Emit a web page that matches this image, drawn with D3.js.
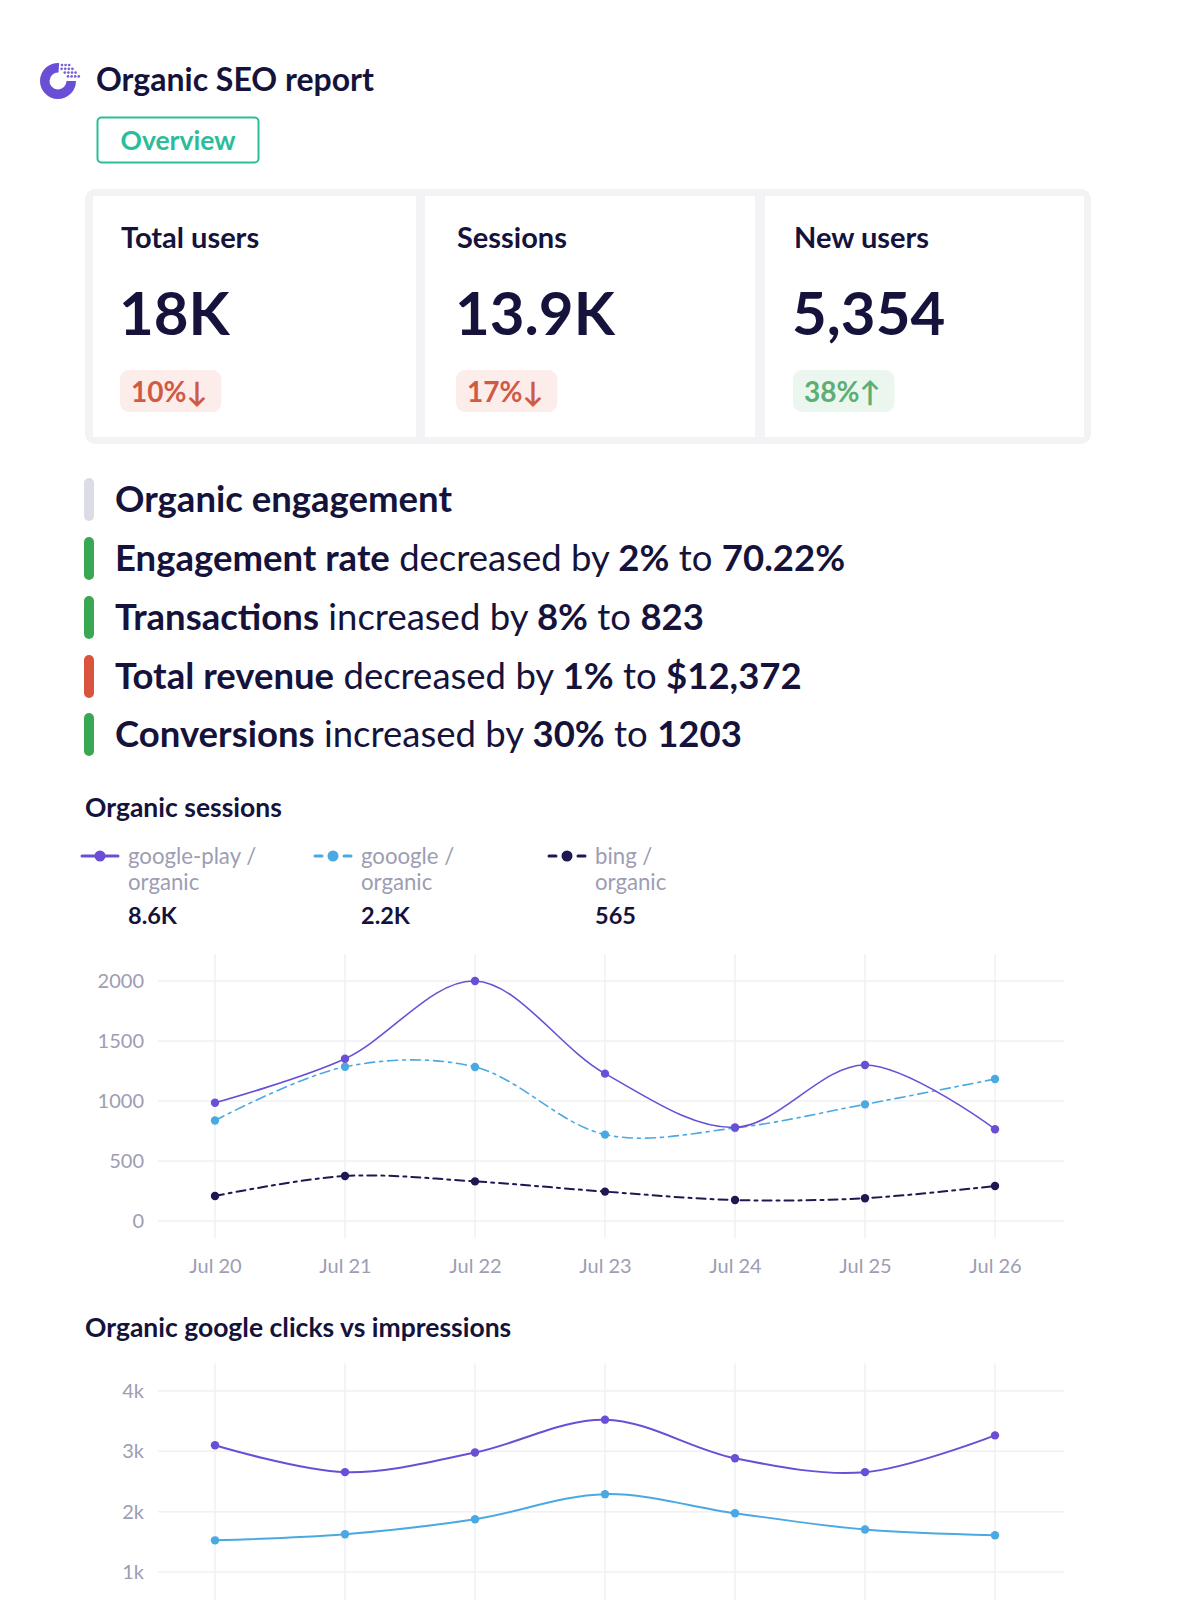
<!DOCTYPE html>
<html>
<head>
<meta charset="utf-8">
<script src="https://cdn.jsdelivr.net/npm/d3@7"></script>
<style>
  html, body { margin: 0; padding: 0; background: #ffffff; }
  svg { display: block; font-family: Lato, "Noto Sans", sans-serif; }
</style>
</head>
<body>
<svg id="chart" width="1180" height="1600"></svg>
<script>
// ---------- DATA ----------
const reportTitle = "Organic SEO report";
const tabLabel = "Overview";

const kpiLabels = ["Total users", "Sessions", "New users"];
const kpiValues = ["18K", "13.9K", "5,354"];
const kpiChanges = ["10%↓", "17%↓", "38%↑"];
const kpiTrend = ["down", "down", "up"];

const engagementTitle = "Organic engagement";
const engagementMetrics = ["Engagement rate", "Transactions", "Total revenue", "Conversions"];
const engagementVerbs = ["decreased", "increased", "decreased", "increased"];
const engagementChange = ["2%", "8%", "1%", "30%"];
const engagementValue = ["70.22%", "823", "$12,372", "1203"];
const engagementTrend = ["good", "good", "bad", "good"];

const days = ["Jul 20", "Jul 21", "Jul 22", "Jul 23", "Jul 24", "Jul 25", "Jul 26"];

const sessionsTitle = "Organic sessions";
const sessionSeriesNames = [["google-play /", "organic"], ["gooogle /", "organic"], ["bing /", "organic"]];
const sessionTotals = ["8.6K", "2.2K", "565"];
const googlePlaySessions = [985, 1352, 2000, 1228, 780, 1300, 765];
const gooogleSessions = [838, 1285, 1283, 720, 775, 972, 1183];
const bingSessions = [208, 375, 330, 245, 175, 190, 292];
const sessionTicks = [0, 500, 1000, 1500, 2000];

const clicksTitle = "Organic google clicks vs impressions";
const impressions = [3100, 2655, 2980, 3525, 2885, 2655, 3265];
const clicks = [1525, 1625, 1875, 2290, 1975, 1705, 1610];
const clickTicks = [1000, 2000, 3000, 4000];
const clickTickLabels = ["1k", "2k", "3k", "4k"];

// ---------- STYLE ----------
const C = {
  ink: "#15133b",
  purple: "#6a4fd6",
  blue: "#4aa9e2",
  navy: "#1e1852",
  teal: "#2bbd98",
  gray: "#9d9db3",
  grid: "#f0f0f5",
  red: "#cf5b45", redBg: "#fcecea",
  green: "#5cae73", greenBg: "#ebf6ee",
  barGood: "#3aa853", barBad: "#d9533f", barNeutral: "#dcdce6"
};

const svg = d3.select("#chart");

// ---------- HEADER ----------
const logo = svg.append("g").attr("transform", "translate(58,81)");
const ringArc = d3.arc().innerRadius(8.5).outerRadius(18)
  .startAngle(Math.PI * 0.5).endAngle(Math.PI * 2.02);
logo.append("path").attr("d", ringArc()).attr("fill", C.purple);
const dotRows = [[0,1,2],[0,1,2,3],[1,2,3,4],[2,3,4,5]];
dotRows.forEach((row, r) => row.forEach(c => {
  logo.append("circle")
    .attr("cx", 4 + c * 3.6 - r * 0.4)
    .attr("cy", -16 + r * 3.8)
    .attr("r", 1.35).attr("fill", C.purple).attr("opacity", 0.9);
}));

svg.append("text").attr("x", 96).attr("y", 91)
  .attr("font-size", 32).attr("font-weight", 700).attr("fill", C.ink)
  .text(reportTitle);

svg.append("rect").attr("x", 97.5).attr("y", 117.5).attr("width", 161).attr("height", 45)
  .attr("rx", 4).attr("fill", "#fff").attr("stroke", C.teal).attr("stroke-width", 2);
svg.append("text").attr("x", 178).attr("y", 150).attr("text-anchor", "middle")
  .attr("font-size", 26.5).attr("font-weight", 700).attr("fill", C.teal).text(tabLabel);

// ---------- KPI CARDS ----------
svg.append("rect").attr("x", 85).attr("y", 189).attr("width", 1006).attr("height", 255)
  .attr("rx", 10).attr("fill", "#f3f3f6");
const cardX = [93, 425, 765];
const cardW = [323, 330, 319];
const cardPad = [28, 32, 29];
kpiLabels.forEach((lab, i) => {
  const g = svg.append("g");
  g.append("rect").attr("x", cardX[i]).attr("y", 196).attr("width", cardW[i]).attr("height", 241)
    .attr("fill", "#fff");
  const tx = cardX[i] + cardPad[i];
  g.append("text").attr("x", tx).attr("y", 248).attr("font-size", 29).attr("font-weight", 700)
    .attr("fill", C.ink).text(lab);
  g.append("text").attr("x", tx - 2).attr("y", 335).attr("font-size", 60).attr("font-weight", 700)
    .attr("fill", C.ink).text(kpiValues[i]);
  const up = kpiTrend[i] === "up";
  const t = g.append("text").attr("x", tx + 10).attr("y", 402).attr("font-size", 28).attr("font-weight", 700)
    .attr("fill", up ? C.green : C.red).text(kpiChanges[i]);
  const w = t.node().getComputedTextLength();
  g.insert("rect", "text:last-child").attr("x", tx - 1).attr("y", 370).attr("width", w + 25).attr("height", 42)
    .attr("rx", 9).attr("fill", up ? C.greenBg : C.redBg);
});

// ---------- ENGAGEMENT ----------
const engBase = [512, 571, 630, 689, 747];
function engBar(y, color) {
  svg.append("rect").attr("x", 84).attr("y", y - 34).attr("width", 10).attr("height", 43)
    .attr("rx", 5).attr("fill", color);
}
engBar(engBase[0], C.barNeutral);
svg.append("text").attr("x", 115).attr("y", engBase[0]).attr("font-size", 36.5).attr("font-weight", 700)
  .attr("fill", C.ink).text(engagementTitle);
engagementMetrics.forEach((m, i) => {
  const y = engBase[i + 1];
  engBar(y, engagementTrend[i] === "good" ? C.barGood : C.barBad);
  const t = svg.append("text").attr("x", 115).attr("y", y).attr("font-size", 36.5).attr("fill", C.ink);
  t.append("tspan").attr("font-weight", 700).text(m);
  t.append("tspan").attr("font-weight", 400).text(" " + engagementVerbs[i] + " by ");
  t.append("tspan").attr("font-weight", 700).text(engagementChange[i]);
  t.append("tspan").attr("font-weight", 400).text(" to ");
  t.append("tspan").attr("font-weight", 700).text(engagementValue[i]);
});

// ---------- SHARED CHART HELPERS ----------
const x = d3.scaleLinear().domain([0, days.length - 1]).range([215, 995]);
const gridX0 = 158, gridX1 = 1064;

function drawGrid(y, ticks, labels, vTop, vBottom, showXLabels, xLabelY) {
  const g = svg.append("g");
  g.selectAll("line.h").data(ticks).join("line")
    .attr("x1", gridX0).attr("x2", gridX1)
    .attr("y1", d => y(d)).attr("y2", d => y(d))
    .attr("stroke", C.grid).attr("stroke-width", 1.5);
  g.selectAll("line.v").data(days).join("line")
    .attr("x1", (d, i) => x(i)).attr("x2", (d, i) => x(i))
    .attr("y1", vTop).attr("y2", vBottom)
    .attr("stroke", C.grid).attr("stroke-width", 1.5);
  const yAxis = d3.axisLeft(y).tickValues(ticks).tickSize(0).tickPadding(0)
    .tickFormat((d, i) => labels[i]);
  const ya = g.append("g").attr("transform", "translate(144,0)").call(yAxis);
  ya.select(".domain").remove();
  ya.selectAll("text").attr("font-size", 20).attr("fill", C.gray)
    .attr("font-family", "Lato, sans-serif");
  if (showXLabels) {
    const xAxis = d3.axisBottom(x).tickValues(d3.range(days.length)).tickSize(0).tickPadding(0)
      .tickFormat(i => days[i]);
    const xa = g.append("g").attr("transform", `translate(0,${xLabelY})`).call(xAxis);
    xa.select(".domain").remove();
    xa.selectAll("text").attr("font-size", 20).attr("fill", C.gray)
      .attr("font-family", "Lato, sans-serif");
  }
}

function drawSeries(y, values, color, width, dash) {
  const line = d3.line().x((d, i) => x(i)).y(d => y(d)).curve(d3.curveCatmullRom.alpha(0.5));
  svg.append("path").datum(values).attr("d", line).attr("fill", "none")
    .attr("stroke", color).attr("stroke-width", width)
    .attr("stroke-dasharray", dash || null).attr("stroke-linecap", "round");
  svg.append("g").selectAll("circle").data(values).join("circle")
    .attr("cx", (d, i) => x(i)).attr("cy", d => y(d)).attr("r", 4.2).attr("fill", color);
}

// ---------- ORGANIC SESSIONS ----------
svg.append("text").attr("x", 85).attr("y", 817).attr("font-size", 26.5).attr("font-weight", 700)
  .attr("fill", C.ink).text(sessionsTitle);

const legendX = [82, 315, 549];
const legendColors = [C.purple, C.blue, C.navy];
sessionSeriesNames.forEach((nm, i) => {
  const lx = legendX[i];
  const g = svg.append("g");
  if (i === 0) {
    g.append("line").attr("x1", lx).attr("x2", lx + 36).attr("y1", 856).attr("y2", 856)
      .attr("stroke", legendColors[i]).attr("stroke-width", 3).attr("stroke-linecap", "round");
  } else {
    g.append("line").attr("x1", lx).attr("x2", lx + 7).attr("y1", 856).attr("y2", 856)
      .attr("stroke", legendColors[i]).attr("stroke-width", 3).attr("stroke-linecap", "round");
    g.append("line").attr("x1", lx + 29).attr("x2", lx + 36).attr("y1", 856).attr("y2", 856)
      .attr("stroke", legendColors[i]).attr("stroke-width", 3).attr("stroke-linecap", "round");
  }
  g.append("circle").attr("cx", lx + 18).attr("cy", 856).attr("r", 5.5).attr("fill", legendColors[i]);
  g.append("text").attr("x", lx + 46).attr("y", 864).attr("font-size", 22.2).attr("fill", C.gray).text(nm[0]);
  g.append("text").attr("x", lx + 46).attr("y", 890).attr("font-size", 22.2).attr("fill", C.gray).text(nm[1]);
  g.append("text").attr("x", lx + 46).attr("y", 924).attr("font-size", 23.5).attr("font-weight", 700)
    .attr("fill", C.ink).text(sessionTotals[i]);
});

const y1 = d3.scaleLinear().domain([0, 2000]).range([1221, 981]);
drawGrid(y1, sessionTicks, sessionTicks.map(String), y1(2225), y1(-145), true, 1259);
drawSeries(y1, bingSessions, C.navy, 2, "9 5 3 5");
drawSeries(y1, gooogleSessions, C.blue, 1.6, "10 5 3 5");
drawSeries(y1, googlePlaySessions, C.purple, 1.6, null);

// ---------- CLICKS VS IMPRESSIONS ----------
svg.append("text").attr("x", 85).attr("y", 1337).attr("font-size", 26.5).attr("font-weight", 700)
  .attr("fill", C.ink).text(clicksTitle);

const y2 = d3.scaleLinear().domain([1000, 4000]).range([1572, 1391]);
drawGrid(y2, clickTicks, clickTickLabels, y2(4460), 1600, false, 0);
drawSeries(y2, clicks, C.blue, 2, null);
drawSeries(y2, impressions, C.purple, 2, null);
</script>
</body>
</html>
